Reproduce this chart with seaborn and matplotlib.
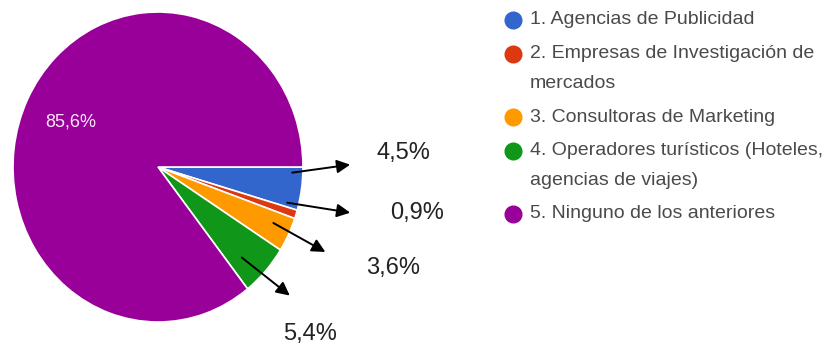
import numpy as np
import matplotlib
matplotlib.use("Agg")
import matplotlib.pyplot as plt
import seaborn as sns
from matplotlib.lines import Line2D
from matplotlib.transforms import offset_copy

# Survey answers
categories = [
    "1. Agencias de Publicidad",
    "2. Empresas de Investigación de\nmercados",
    "3. Consultoras de Marketing",
    "4. Operadores turísticos (Hoteles,\nagencias de viajes)",
    "5. Ninguno de los anteriores",
]
shares = [4.5, 0.9, 3.6, 5.4, 85.6]
share_labels = ["4,5%", "0,9%", "3,6%", "5,4%", "85,6%"]

sns.set_theme(style="white")
plt.rcParams["font.family"] = ["Liberation Sans", "DejaVu Sans"]
palette = sns.color_palette(["#3366cc", "#dc3912", "#ff9900", "#109618", "#990099"])

W, H = 824, 349
fig = plt.figure(figsize=(W / 100, H / 100), dpi=100)

# pie area (pixel geometry: centre, horizontal and vertical radius)
cx, cy, rx, ry = 158, 167, 145, 155
ax = fig.add_axes([(cx - rx) / W, (H - cy - ry) / H, 2 * rx / W, 2 * ry / H])
wedges, _ = ax.pie(
    shares, colors=palette, startangle=0, counterclock=False, radius=1,
    wedgeprops=dict(edgecolor="white", linewidth=1.2),
)
ax.set_aspect("auto")
ax.set_xlim(-1, 1)
ax.set_ylim(-1, 1)
ax.axis("off")

# callout layout (pixel offsets from each wedge's mid point, y downward)
tail_off = [(5, -14), (5, -7), (-2, -5), (-13, -3)]
head_off = [(63, -22), (68, 3), (50, 24), (35, 35)]
label_off = [(116, -34), (135, 3), (118, 40), (55, 73)]

for i, w in enumerate(wedges):
    mid = np.deg2rad((w.theta1 + w.theta2) / 2)
    mx, my = 0.9 * np.cos(mid), 0.9 * np.sin(mid)
    if i < 4:
        tx, ty = tail_off[i]
        hx, hy = head_off[i]
        ax.annotate(
            "", xy=(mx, my),
            xycoords=offset_copy(ax.transData, fig=fig, x=hx, y=-hy, units="dots"),
            xytext=(mx, my),
            textcoords=offset_copy(ax.transData, fig=fig, x=tx, y=-ty, units="dots"),
            arrowprops=dict(arrowstyle="-|>", color="black", lw=1.4,
                            mutation_scale=20, shrinkA=0, shrinkB=0),
            annotation_clip=False,
        )
        lx, ly = label_off[i]
        ax.annotate(
            share_labels[i], xy=(mx, my), xytext=(lx, -ly),
            textcoords="offset pixels", ha="center", va="center",
            fontsize=17, color="#222222", annotation_clip=False,
        )
    else:
        ax.text(0.67 * np.cos(mid), 0.67 * np.sin(mid), share_labels[i],
                ha="center", va="center", fontsize=13, color="#fbe8fb")

# legend: marker on the first line of each entry, wrapped lines below
mark_x, text_x = 513, 530
line_step, entry_gap = 30, 3.5
y = 20
for i, cat in enumerate(categories):
    fig.add_artist(Line2D([mark_x / W], [1 - y / H], marker="o", markersize=12,
                          color=palette[i], linestyle="none",
                          transform=fig.transFigure))
    for line in cat.split("\n"):
        fig.text(text_x / W, 1 - y / H, line, ha="left", va="center",
                 fontsize=14, color="#4a4a4a")
        y += line_step
    y += entry_gap

fig.savefig("out.png", dpi=100)
